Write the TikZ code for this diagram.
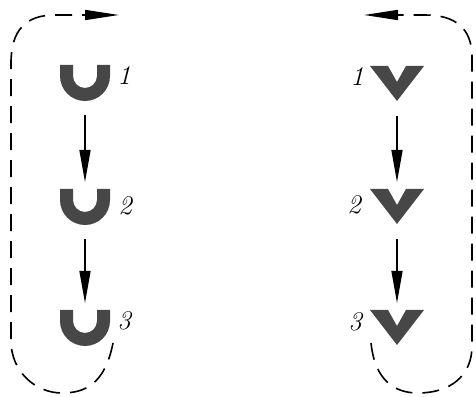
\documentclass[tikz,border=0pt]{standalone}
\usetikzlibrary{arrows.meta}
\begin{document}
\begin{tikzpicture}[x=1pt,y=1pt,
  shapebox/.style={minimum width=54pt,minimum height=36pt,inner sep=0pt,outer sep=0pt},
  shapefill/.style={fill=black!72},
  flow/.style={line width=1.4pt,-{Triangle[length=32pt,width=11pt]},shorten <=14pt,shorten >=7pt},
  loop/.style={line width=1.6pt,dash pattern=on 17pt off 10pt,-{Triangle[length=34pt,width=10pt]}},
  num/.style={font=\fontsize{27}{29}\selectfont\itshape,inner sep=0pt}]
\useasboundingbox (0,0) rectangle (476,396);
% left U-shaped items
\node[shapebox] (L1) at (85,313) {};
\node[shapebox] (L2) at (85,189) {};
\node[shapebox] (L3) at (85,68) {};
\foreach \n in {L1,L2,L3}{
  \fill[shapefill,shift={(\n.north)}] (-25,0) -- (-25,-11) arc[start angle=180,end angle=360,radius=25]
    -- (25,0) -- (12,0) -- (12,-11) arc[start angle=0,end angle=-180,radius=12] -- (-12,0) -- cycle;
}
% right V-shaped items
\node[shapebox] (R1) at (397,312) {};
\node[shapebox] (R2) at (397,189) {};
\node[shapebox] (R3) at (397,68) {};
\foreach \n in {R1,R2,R3}{
  \fill[shapefill,shift={(\n.north)}] (-27,0) -- (-9,0) -- (0,-16) -- (9,0) -- (27,0) -- (0,-35) -- cycle;
}
% labels
\node[num] (l1) at (124,320) {1};
\node[num] (l2) at (125,190) {2};
\node[num] (l3) at (124,75) {3};
\node[num] (r1) at (357,319) {1};
\node[num] (r2) at (354,191) {2};
\node[num] (r3) at (355,74) {3};
% flow arrows
\draw[flow] (L1.south) -- (L2.north);
\draw[flow] (L2.south) -- (L3.north);
\draw[flow] (R1.south) -- (R2.north);
\draw[flow] (R2.south) -- (R3.north);
% dashed return loops
\coordinate (Ls) at (113,53);
\coordinate (Le) at (119,381);
\coordinate (Rs) at (371,53);
\coordinate (Re) at (364,381);
\draw[loop] (Ls) .. controls (105,12) and (85,3) .. (62,3)
  .. controls (35,3) and (11,25) .. (11,55) -- (11,333)
  .. controls (11,365) and (25,381) .. (55,381) -- (Le);
\draw[loop] (Rs) .. controls (375,15) and (395,3) .. (418,3)
  .. controls (450,3) and (472,20) .. (472,50) -- (472,339)
  .. controls (472,368) and (455,381) .. (425,381) -- (Re);
\end{tikzpicture}
\end{document}
